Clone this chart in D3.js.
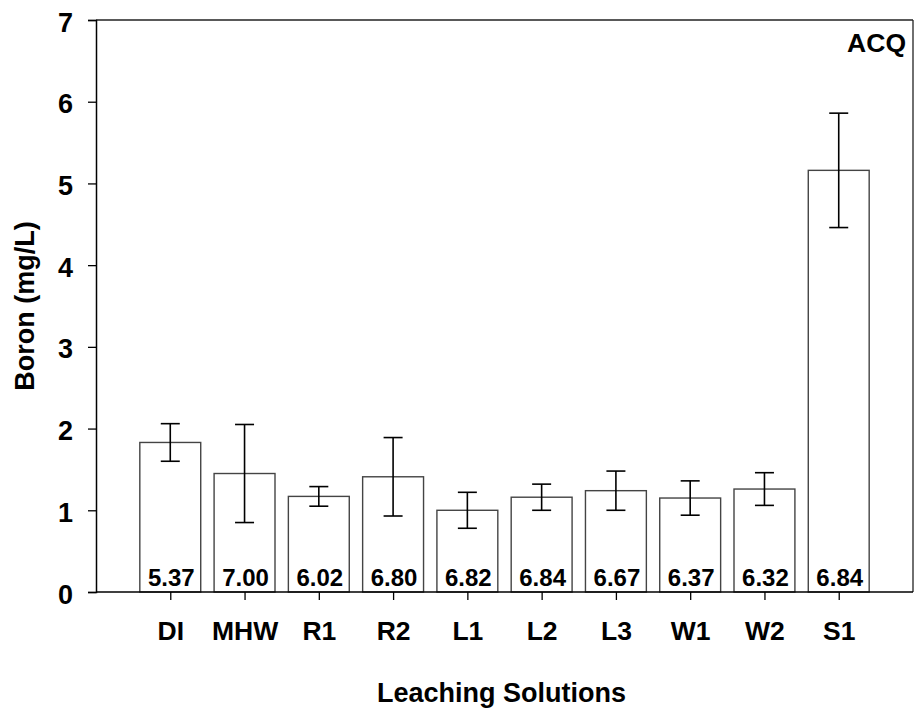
<!DOCTYPE html>
<html>
<head>
<meta charset="utf-8">
<script src="https://cdn.jsdelivr.net/npm/d3@7"></script>
<style>
  html, body { margin: 0; padding: 0; background: #fff; }
  svg { display: block; }
  text { font-family: Arial, "Liberation Sans", sans-serif; font-weight: bold; fill: #000; }
</style>
</head>
<body>
<svg id="chart" width="914" height="710"></svg>
<script>
const categories = ["DI", "MHW", "R1", "R2", "L1", "L2", "L3", "W1", "W2", "S1"];
const boronMeans = [1.83, 1.45, 1.17, 1.41, 1.00, 1.16, 1.24, 1.15, 1.26, 5.16];
const boronErrors = [0.23, 0.60, 0.12, 0.48, 0.22, 0.16, 0.24, 0.21, 0.20, 0.70];
const phLabels = ["5.37", "7.00", "6.02", "6.80", "6.82", "6.84", "6.67", "6.37", "6.32", "6.84"];
const yTicks = [0, 1, 2, 3, 4, 5, 6, 7];
const yTitle = "Boron (mg/L)";
const xTitle = "Leaching Solutions";
const panelLabel = "ACQ";

(function () {
const svg = d3.select("#chart");
const mL = 96, mR = 913, mT = 20, mB = 592;

const x = d3.scalePoint().domain(categories).range([mL, mR]).padding(1);
const y = d3.scaleLinear().domain([0, 7]).range([mB, mT]);
const barW = x.step() * 0.82;
const capW = 19;

svg.append("line").attr("x1", mL).attr("x2", mR).attr("y1", mT).attr("y2", mT)
  .attr("stroke", "#222").attr("stroke-width", 1.3);
svg.append("line").attr("x1", mR).attr("x2", mR).attr("y1", mT).attr("y2", mB)
  .attr("stroke", "#222").attr("stroke-width", 1.3);

const data = categories.map((c, i) => ({ c, m: boronMeans[i], e: boronErrors[i], ph: phLabels[i] }));
const g = svg.append("g");
g.selectAll("rect.bar").data(data).join("rect")
  .attr("class", "bar")
  .attr("x", d => x(d.c) - barW / 2)
  .attr("width", barW)
  .attr("y", d => y(d.m))
  .attr("height", d => y(0) - y(d.m))
  .attr("fill", "#fff")
  .attr("stroke", "#444")
  .attr("stroke-width", 1.4);

const eb = g.selectAll("g.err").data(data).join("g").attr("class", "err")
  .attr("stroke", "#000").attr("stroke-width", 1.6);
eb.append("line").attr("x1", d => x(d.c)).attr("x2", d => x(d.c))
  .attr("y1", d => y(d.m + d.e)).attr("y2", d => y(d.m - d.e));
eb.append("line").attr("x1", d => x(d.c) - capW / 2).attr("x2", d => x(d.c) + capW / 2)
  .attr("y1", d => y(d.m + d.e)).attr("y2", d => y(d.m + d.e));
eb.append("line").attr("x1", d => x(d.c) - capW / 2).attr("x2", d => x(d.c) + capW / 2)
  .attr("y1", d => y(d.m - d.e)).attr("y2", d => y(d.m - d.e));

g.selectAll("text.ph").data(data).join("text")
  .attr("class", "ph")
  .attr("x", d => x(d.c) + 1)
  .attr("y", y(0) - 6)
  .attr("text-anchor", "middle")
  .attr("font-size", 24)
  .text(d => d.ph);

const yAxis = svg.append("g").attr("transform", `translate(${mL},0)`)
  .call(d3.axisLeft(y).tickValues(yTicks).tickFormat(d3.format("d")).tickSize(8).tickPadding(15));
yAxis.select(".domain").attr("stroke", "#000").attr("stroke-width", 1.5);
yAxis.selectAll(".tick line").attr("stroke", "#000").attr("stroke-width", 1.3);
yAxis.selectAll(".tick text").attr("font-size", 27).attr("font-family", "Arial, 'Liberation Sans', sans-serif")
  .attr("font-weight", "bold").attr("fill", "#000").attr("dy", "0.41em");

const xAxis = svg.append("g").attr("transform", `translate(0,${mB})`)
  .call(d3.axisBottom(x).tickSize(8).tickPadding(20));
xAxis.select(".domain").attr("d", `M${mL},0H${mR}`).attr("stroke", "#000").attr("stroke-width", 1.5);
xAxis.selectAll(".tick line").attr("stroke", "#000").attr("stroke-width", 1.3);
xAxis.selectAll(".tick text").attr("font-size", 26.5).attr("font-family", "Arial, 'Liberation Sans', sans-serif")
  .attr("font-weight", "bold").attr("fill", "#000").attr("dy", "0.74em");

svg.append("text").attr("x", (mL + mR) / 2 - 3).attr("y", 702)
  .attr("text-anchor", "middle").attr("font-size", 27).text(xTitle);
svg.append("text").attr("transform", `translate(33.5,${(mT + mB) / 2}) rotate(-90)`)
  .attr("text-anchor", "middle").attr("font-size", 27).text(yTitle);

svg.append("text").attr("x", 906).attr("y", 52).attr("text-anchor", "end")
  .attr("font-size", 26.5).text(panelLabel);
})();
</script>
</body>
</html>
